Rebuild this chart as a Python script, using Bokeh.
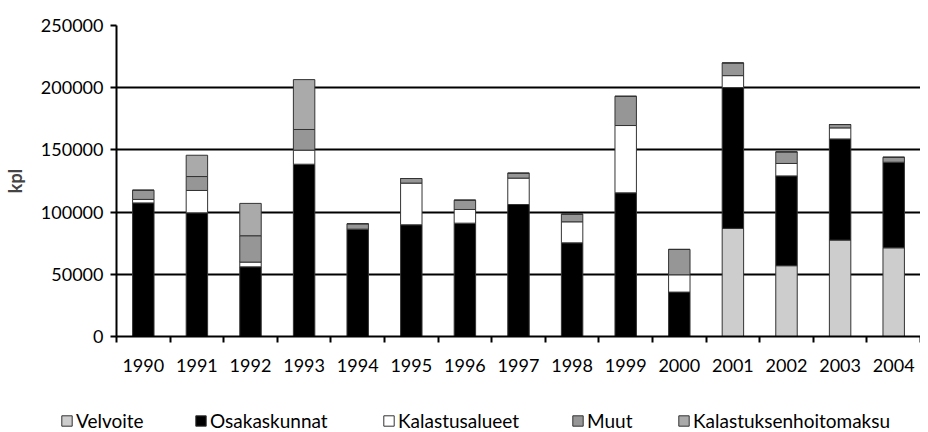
from bokeh.plotting import figure
from bokeh.models import (Range1d, FixedTicker, BasicTickFormatter, Legend, LegendItem)
from bokeh.embed import file_html
from bokeh.resources import INLINE

years = ["1990", "1991", "1992", "1993", "1994", "1995", "1996", "1997",
         "1998", "1999", "2000", "2001", "2002", "2003", "2004"]
series_names = ["Velvoite", "Osakaskunnat", "Kalastusalueet", "Muut", "Kalastuksenhoitomaksu"]
velvoite = [0, 0, 0, 0, 0, 0, 0, 0, 0, 0, 0, 86900, 56900, 77500, 71300]
osakaskunnat = [107400, 99400, 56000, 138500, 86300, 89800, 91100, 106100,
                75300, 115500, 35700, 113200, 72200, 81300, 68800]
kalastusalueet = [2800, 18000, 3800, 11300, 0, 33500, 11000, 21200,
                  16900, 54100, 13900, 9600, 10000, 8900, 0]
muut = [7400, 11200, 21200, 16600, 4300, 3700, 7500, 4000,
        6200, 23500, 20400, 10200, 9300, 2700, 4000]
kalastuksenhoitomaksu = [0, 17100, 26000, 40100, 0, 0, 0, 0,
                         0, 0, 0, 0, 0, 0, 0]
y_ticks = [0, 50000, 100000, 150000, 200000, 250000]

colors = ["#cdcdcd", "#000000", "#ffffff", "#969696", "#aaaaaa"]
FONT = "Lato"

n = len(years)
centers = [i + 0.5 for i in range(n)]
bounds = [float(i) for i in range(n + 1)]

data = dict(x=centers)
for name, vals in zip(series_names, [velvoite, osakaskunnat, kalastusalueet, muut, kalastuksenhoitomaksu]):
    data[name] = vals

p = figure(width=920, height=392, output_backend="svg", toolbar_location=None,
           x_range=Range1d(0, n), y_range=Range1d(0, 250000),
           min_border_left=109, min_border_right=0, min_border_top=25, min_border_bottom=56)
p.outline_line_color = None

p.vbar_stack(series_names, x="x", width=0.4, source=data,
             fill_color=colors, line_color="#333333", line_width=1)

# y axis
p.yaxis.ticker = FixedTicker(ticks=y_ticks)
p.yaxis.formatter = BasicTickFormatter(use_scientific=False)
p.yaxis.axis_label = "kpl"
p.yaxis.axis_label_text_font = FONT
p.yaxis.axis_label_text_font_style = "bold"
p.yaxis.axis_label_text_font_size = "18px"
p.yaxis.axis_label_standoff = 12
p.yaxis.major_label_text_font = FONT
p.yaxis.major_label_text_font_size = "18px"
p.yaxis.major_label_text_color = "black"
p.yaxis.major_label_standoff = 7
p.yaxis.axis_line_color = "black"
p.yaxis.axis_line_width = 2
p.yaxis.major_tick_out = 6
p.yaxis.major_tick_in = 0
p.yaxis.major_tick_line_width = 2
p.yaxis.major_tick_line_color = "black"
p.yaxis.minor_tick_line_color = None

# x axis
p.xaxis.ticker = FixedTicker(ticks=centers, minor_ticks=bounds)
p.xaxis.major_label_overrides = {c: y for c, y in zip(centers, years)}
p.xaxis.major_label_text_font = FONT
p.xaxis.major_label_text_font_size = "18px"
p.xaxis.major_label_text_color = "black"
p.xaxis.major_label_standoff = 16
p.xaxis.axis_line_color = "black"
p.xaxis.axis_line_width = 2
p.xaxis.major_tick_out = 0
p.xaxis.major_tick_in = 0
p.xaxis.major_tick_line_color = None
p.xaxis.minor_tick_out = 6
p.xaxis.minor_tick_in = 0
p.xaxis.minor_tick_line_color = "black"
p.xaxis.minor_tick_line_width = 2

# grid
p.xgrid.grid_line_color = None
p.ygrid.ticker = FixedTicker(ticks=y_ticks)
p.ygrid.grid_line_color = "black"
p.ygrid.grid_line_width = 2

# legend strip: a separate small figure whose hidden bars carry the same styles
lp = figure(width=920, height=40, output_backend="svg", toolbar_location=None,
            x_range=Range1d(0, n), y_range=Range1d(-400, -200),
            min_border_left=0, min_border_right=0, min_border_top=0, min_border_bottom=0,
            x_axis_type=None, y_axis_type=None)
lp.outline_line_color = None
lp.xgrid.grid_line_color = None
lp.ygrid.grid_line_color = None
proxies = lp.vbar_stack(series_names, x="x", width=0.4, source=data,
                        fill_color=colors, line_color="#333333", line_width=1)
for r in proxies:
    r.visible = False

offsets = [60, 194, 382, 571, 677]
for name, r, off in zip(series_names, proxies, offsets):
    lg = Legend(items=[LegendItem(label=name, renderers=[r])],
                location=(off, 0), orientation="horizontal",
                padding=0, margin=0, spacing=0,
                border_line_color=None, background_fill_alpha=0,
                glyph_width=13, glyph_height=13, label_standoff=3,
                label_text_font=FONT, label_text_font_size="19px",
                label_text_color="black", label_height=13)
    lp.add_layout(lg)

open("out.html", "w").write(file_html([p, lp], INLINE))
